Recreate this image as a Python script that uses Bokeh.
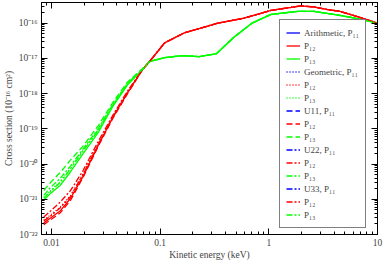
from bokeh.plotting import figure
from bokeh.models import (Range1d, LogAxis, FixedTicker, CustomJSTickFormatter,
                          Legend, LegendItem)
from bokeh.embed import file_html
from bokeh.resources import INLINE

# ---------------- data (keV, 10^-16 cm^2 scale as drawn) ----------------
E_low = [0.0085, 0.0098, 0.012, 0.015, 0.0195, 0.027, 0.037, 0.05, 0.069]

red_solid_low = [2.14e-22, 2.94e-22, 4.62e-22, 1.07e-21, 4.39e-21, 3.44e-20, 2.22e-19, 1.04e-18, 4.87e-18]
red_dotted_low = [2.59e-22, 3.57e-22, 5.98e-22, 1.29e-21, 5.32e-21, 3.91e-20, 2.37e-19, 1.11e-18, 4.87e-18]
red_dashed_low = [1.88e-22, 2.59e-22, 4.06e-22, 9.38e-22, 4.12e-21, 3.22e-20, 2.08e-19, 9.75e-19, 4.87e-18]
red_dashdot_low = [3.14e-22, 4.62e-22, 8.24e-22, 1.78e-21, 6.46e-21, 4.45e-20, 2.52e-19, 1.18e-18, 4.87e-18]
red_dashdotdot_low = [2.43e-22, 3.35e-22, 5.61e-22, 1.21e-21, 4.99e-21, 3.66e-20, 2.22e-19, 1.04e-18, 4.87e-18]

green_solid_low = [9.38e-22, 1.47e-21, 2.46e-21, 6.05e-21, 1.93e-20, 7.93e-20, 4.51e-19, 1.74e-18, 4.87e-18]
green_dotted_low = [1.14e-21, 1.78e-21, 3.18e-21, 7.83e-21, 2.49e-20, 9.62e-20, 5.12e-19, 1.85e-18, 4.87e-18]
green_dashed_low = [1.78e-21, 2.99e-21, 5.68e-21, 1.31e-20, 3.22e-20, 1.24e-19, 5.82e-19, 2.11e-18, 5.19e-18]
green_dashdot_low = [1.29e-21, 2.16e-21, 3.86e-21, 8.91e-21, 2.66e-20, 1.03e-19, 5.12e-19, 1.98e-18, 4.87e-18]
green_dashdotdot_low = [1.07e-21, 1.67e-21, 2.99e-21, 7.35e-21, 2.34e-20, 9.02e-20, 4.81e-19, 1.85e-18, 4.87e-18]

E_red_high = [0.08, 0.11, 0.166, 0.34, 0.59, 1.05, 1.6, 1.95, 2.6, 3.4, 4.5, 6.4, 10.0]
red_high = [8.15e-18, 2.76e-17, 5.26e-17, 1.0e-16, 1.38e-16, 2.31e-16, 2.80e-16, 3.08e-16,
            2.89e-16, 2.46e-16, 2.16e-16, 1.57e-16, 1.0e-16]

E_green_high = [0.08, 0.11, 0.16, 0.23, 0.33, 0.48, 0.7, 1.05, 1.85, 2.6, 4.5, 7.0, 10.0]
green_high = [8.15e-18, 1.05e-17, 1.2e-17, 1.12e-17, 1.36e-17, 4.06e-17, 1.0e-16, 1.78e-16,
              2.16e-16, 2.16e-16, 1.67e-16, 1.29e-16, 1.0e-16]

# P11 curves are not visible anywhere in the plotted range (legend entries only)
E_blue = [float("nan")]
blue_vals = [float("nan")]

methods = ["Arithmetic", "Geometric", "U11", "U22", "U33"]
x_ticks = [0.01, 0.1, 1, 10]
y_ticks = [1e-22, 1e-21, 1e-20, 1e-19, 1e-18, 1e-17, 1e-16]

# ---------------- styling ----------------
FONT = "Liberation Serif"
FS = "9.5px"
RED = "#ff0000"
GREEN = "#00ff00"
BLUE = "#0000ff"
dashes = ["solid", "1 2", "6 3", "6 2 2 2", "6 2 2 2 2 2"]

p = figure(width=384, height=262, x_axis_type="log", y_axis_type="log",
           x_range=Range1d(0.0081, 10), y_range=Range1d(1e-22, 3.86e-16),
           output_backend="svg", toolbar_location=None,
           min_border_left=38, min_border_right=7, min_border_top=2, min_border_bottom=24)
p.xgrid.visible = False
p.ygrid.visible = False
p.outline_line_color = "black"
p.background_fill_color = "white"
p.border_fill_color = "white"

x_minor = [k * 10.0 ** n for n in range(-3, 1) for k in range(2, 10)]
y_minor = [k * 10.0 ** n for n in range(-23, -15) for k in range(2, 10)]

sup_code = """
const e = Math.round(Math.log10(tick));
const sup = {"-":"\u207b","0":"\u2070","1":"\u00b9","2":"\u00b2","3":"\u00b3","4":"\u2074",
             "5":"\u2075","6":"\u2076","7":"\u2077","8":"\u2078","9":"\u2079"};
return "10" + String(e).split("").map(c => sup[c]).join("");
"""
xfmt_code = """
return String(tick);
"""
blank_code = "return '';"


def style_axis(ax, labels=True):
    ax.major_tick_in = 6
    ax.major_tick_out = 0
    ax.minor_tick_in = 3
    ax.minor_tick_out = 0
    ax.axis_line_color = "black"
    ax.major_tick_line_color = "black"
    ax.minor_tick_line_color = "black"
    ax.major_label_text_font = FONT
    ax.major_label_text_font_size = FS if labels else "0px"
    ax.major_label_standoff = 4 if labels else 0
    ax.axis_label_text_font = FONT
    ax.axis_label_text_font_size = FS
    ax.axis_label_text_font_style = "normal"
    ax.axis_label_standoff = 1


p.xaxis.ticker = FixedTicker(ticks=x_ticks, minor_ticks=x_minor)
p.xaxis.formatter = CustomJSTickFormatter(code=xfmt_code)
p.xaxis.axis_label = "Kinetic energy (keV)"
style_axis(p.xaxis[0])

p.yaxis.ticker = FixedTicker(ticks=y_ticks, minor_ticks=y_minor)
p.yaxis.formatter = CustomJSTickFormatter(code=sup_code)
p.yaxis.axis_label = "Cross section (10\u207b\u00b9\u2076 cm\u00b2)"
style_axis(p.yaxis[0])
p.yaxis.axis_label_standoff = 2

top = LogAxis(ticker=FixedTicker(ticks=x_ticks, minor_ticks=x_minor),
              formatter=CustomJSTickFormatter(code=blank_code))
style_axis(top, labels=False)
p.add_layout(top, "above")
right = LogAxis(ticker=FixedTicker(ticks=y_ticks, minor_ticks=y_minor),
                formatter=CustomJSTickFormatter(code=blank_code))
style_axis(right, labels=False)
p.add_layout(right, "right")

red_lows = [red_solid_low, red_dotted_low, red_dashed_low, red_dashdot_low, red_dashdotdot_low]
green_lows = [green_solid_low, green_dotted_low, green_dashed_low, green_dashdot_low, green_dashdotdot_low]

items = []
LW = 1.3
for i, m in enumerate(methods):
    rb = p.line(E_blue, blue_vals, line_color=BLUE, line_width=LW, line_dash=dashes[i])
    rr = p.line(E_low + E_red_high, red_lows[i] + red_high, line_color=RED,
                line_width=LW, line_dash=dashes[i])
    rg = p.line(E_low + E_green_high, green_lows[i] + green_high, line_color=GREEN,
                line_width=LW, line_dash=dashes[i])
    items.append(LegendItem(label=f"{m}, P\u2081\u2081", renderers=[rb]))
    items.append(LegendItem(label="P\u2081\u2082", renderers=[rr]))
    items.append(LegendItem(label="P\u2081\u2083", renderers=[rg]))

legend = Legend(items=items, location=(238, 6))
legend.label_text_font = FONT
legend.label_text_font_size = "9px"
legend.padding = 6
legend.spacing = 0
legend.margin = 0
legend.label_height = 13
legend.glyph_height = 13
legend.glyph_width = 14
legend.label_standoff = 4
legend.border_line_color = "black"
legend.border_line_width = 1
legend.background_fill_color = "white"
legend.background_fill_alpha = 1.0
p.add_layout(legend, "center")

open("out.html", "w").write(file_html(p, INLINE))
